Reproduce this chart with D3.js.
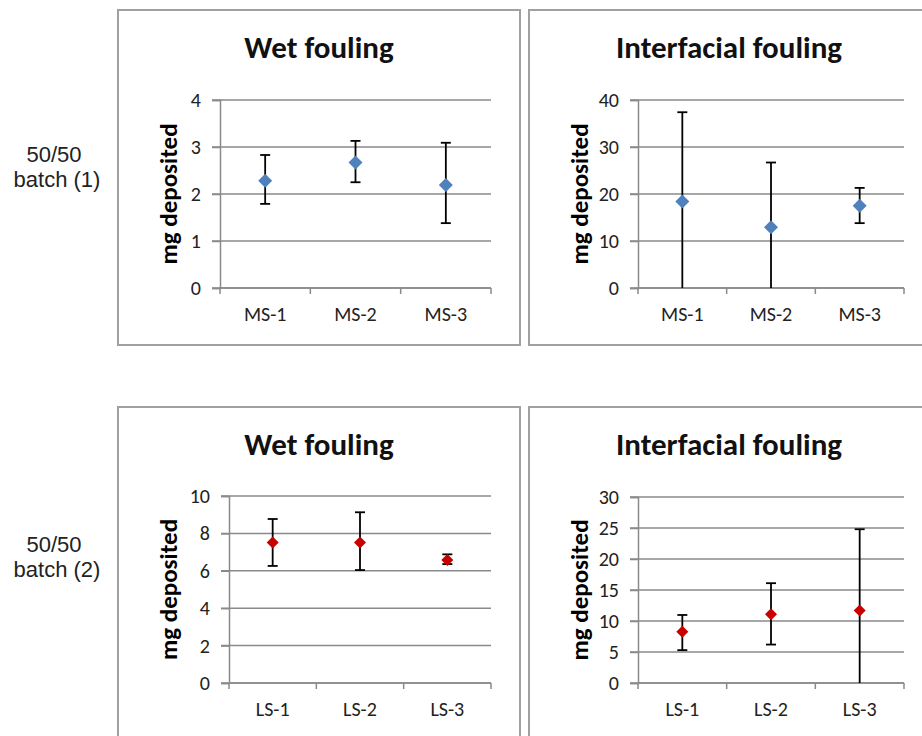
<!DOCTYPE html>
<html>
<head>
<meta charset="utf-8">
<script src="https://cdn.jsdelivr.net/npm/d3@7"></script>
<style>
  body { margin: 0; background: #fff; }
  svg { display: block; }
</style>
</head>
<body>
<svg id="chart" width="922" height="736"></svg>
<script>
// fouling results, two 50/50 batches

const batch1Cats = ['MS-1', 'MS-2', 'MS-3'];
const batch2Cats = ['LS-1', 'LS-2', 'LS-3'];

// batch (1), wet fouling
const wet1Mean = [2.28, 2.67, 2.19];
const wet1Low  = [1.79, 2.25, 1.38];
const wet1High = [2.83, 3.13, 3.09];
// batch (1), interfacial fouling (lower bars run below zero)
const int1Mean = [18.4, 12.9, 17.5];
const int1Low  = [0, 0, 13.8];
const int1High = [37.4, 26.7, 21.3];

// batch (2), wet fouling
const wet2Mean = [7.52, 7.52, 6.58];
const wet2Low  = [6.26, 6.04, 6.36];
const wet2High = [8.77, 9.13, 6.88];
// batch (2), interfacial fouling
const int2Mean = [8.27, 11.1, 11.7];
const int2Low  = [5.3, 6.2, 0];
const int2High = [10.97, 16.1, 24.8];

const wet1Ticks = [0, 1, 2, 3, 4];
const int1Ticks = [0, 10, 20, 30, 40];
const wet2Ticks = [0, 2, 4, 6, 8, 10];
const int2Ticks = [0, 5, 10, 15, 20, 25, 30];

const rowLabels = [['50/50', 'batch (1)'], ['50/50', 'batch (2)']];

const blue = '#4f81bd', red = '#c80000';
const grid = '#8a8a8a';
const fontC = 'Carlito, Lato, "Open Sans", sans-serif';

const svg = d3.select('#chart');

function zip(cats, mean, lo, hi) {
    return cats.map((c, i) => ({cat: c, v: mean[i], lo: lo[i], hi: hi[i]}));
}

let panels = [
    {title: 'Wet fouling', data: zip(batch1Cats, wet1Mean, wet1Low, wet1High), ticks: wet1Ticks,
     color: blue, mk: 14, frame: [118, 10, 402, 335], plot: {l: 220, r: 491, t: 100, b: 288}},
    {title: 'Interfacial fouling', data: zip(batch1Cats, int1Mean, int1Low, int1High), ticks: int1Ticks,
     color: blue, mk: 14, frame: [529, 10, 400, 335], plot: {l: 638, r: 904, t: 100, b: 288}},
    {title: 'Wet fouling', data: zip(batch2Cats, wet2Mean, wet2Low, wet2High), ticks: wet2Ticks,
     color: red, mk: 12, frame: [118, 407, 402, 335], plot: {l: 229, r: 491, t: 496, b: 683}},
    {title: 'Interfacial fouling', data: zip(batch2Cats, int2Mean, int2Low, int2High), ticks: int2Ticks,
     color: red, mk: 12, frame: [529, 407, 400, 335], plot: {l: 638, r: 904, t: 497, b: 683}}
];

panels.forEach(function (p) {
    let g = svg.append('g');
    let [fx, fy, fw, fh] = p.frame;

    g.append('rect')
        .attr('x', fx).attr('y', fy).attr('width', fw).attr('height', fh)
        .attr('fill', '#fff').attr('stroke', '#a0a0a0').attr('stroke-width', 2);

    g.append('text')
        .attr('x', fx + fw / 2).attr('y', fy + 48)
        .attr('text-anchor', 'middle')
        .style('font-family', fontC).style('font-weight', 'bold').style('font-size', '31px')
        .attr('fill', '#111')
        .text(p.title);

    let y = d3.scaleLinear()
        .domain(d3.extent(p.ticks))
        .range([p.plot.b, p.plot.t]);
    let x = d3.scaleBand()
        .domain(p.data.map(d => d.cat))
        .range([p.plot.l, p.plot.r]);

    // gridlines
    g.selectAll('.grid').data(p.ticks).enter().append('line')
        .attr('class', 'grid')
        .attr('x1', p.plot.l - 8).attr('x2', p.plot.r)
        .attr('y1', d => y(d)).attr('y2', d => y(d))
        .attr('stroke', grid).attr('stroke-width', 1.5);

    // y axis
    let ya = g.append('g')
        .attr('transform', 'translate(' + p.plot.l + ',0)')
        .call(d3.axisLeft(y).tickValues(p.ticks).tickSize(8).tickPadding(11).tickFormat(d3.format('d')));
    ya.select('.domain').attr('stroke', grid).attr('stroke-width', 1.5);
    ya.selectAll('.tick line').attr('stroke', grid).attr('stroke-width', 1.5);
    ya.selectAll('text').style('font-family', fontC).style('font-size', '20px').attr('fill', '#222');

    // x axis: ticks between categories, labels at centres
    let xa = g.append('g')
        .attr('transform', 'translate(0,' + p.plot.b + ')')
        .call(d3.axisBottom(x).tickSize(0).tickPadding(19));
    xa.select('.domain').remove();
    xa.selectAll('text').style('font-family', fontC).style('font-size', '20px').attr('fill', '#222');
    g.append('line')
        .attr('x1', p.plot.l).attr('x2', p.plot.r)
        .attr('y1', p.plot.b).attr('y2', p.plot.b)
        .attr('stroke', grid).attr('stroke-width', 1.5);
    let edges = x.domain().map(c => x(c)).concat([p.plot.r]);
    g.selectAll('.xt').data(edges).enter().append('line')
        .attr('class', 'xt')
        .attr('x1', d => d).attr('x2', d => d)
        .attr('y1', p.plot.b).attr('y2', p.plot.b + 6)
        .attr('stroke', grid).attr('stroke-width', 1.5);

    // axis title
    let cy = (p.plot.t + p.plot.b) / 2;
    g.append('text')
        .attr('transform', 'translate(' + (fx + 59) + ',' + cy + ') rotate(-90)')
        .attr('text-anchor', 'middle')
        .style('font-family', fontC).style('font-weight', 'bold').style('font-size', '25px')
        .attr('fill', '#000')
        .text('mg deposited');

    // error bars
    let cx = d => x(d.cat) + x.bandwidth() / 2;
    let yMin = y.domain()[0];
    let eb = g.selectAll('.eb').data(p.data).enter().append('g').attr('class', 'eb');
    eb.append('line')
        .attr('x1', cx).attr('x2', cx)
        .attr('y1', d => y(Math.max(d.lo, yMin))).attr('y2', d => y(d.hi))
        .attr('stroke', '#000').attr('stroke-width', 1.8);
    eb.append('line')
        .attr('x1', d => cx(d) - 5).attr('x2', d => cx(d) + 5)
        .attr('y1', d => y(d.hi)).attr('y2', d => y(d.hi))
        .attr('stroke', '#000').attr('stroke-width', 1.8);
    eb.filter(d => d.lo > yMin).append('line')
        .attr('x1', d => cx(d) - 5).attr('x2', d => cx(d) + 5)
        .attr('y1', d => y(d.lo)).attr('y2', d => y(d.lo))
        .attr('stroke', '#000').attr('stroke-width', 1.8);

    // diamond markers
    let side = p.mk / Math.SQRT2;
    g.selectAll('.pt').data(p.data).enter().append('path')
        .attr('class', 'pt')
        .attr('d', d3.symbol(d3.symbolSquare, side * side))
        .attr('transform', d => 'translate(' + cx(d) + ',' + y(d.v) + ') rotate(45)')
        .attr('fill', p.color);
});

// row labels on the left
let rowY = [[162, 187], [552, 577]];
rowLabels.forEach(function (lines, i) {
    lines.forEach(function (t, j) {
        svg.append('text')
            .attr('x', j === 0 ? 54 : 57).attr('y', rowY[i][j])
            .attr('text-anchor', 'middle')
            .style('font-family', '"Liberation Sans", Arial, sans-serif').style('font-size', '22px')
            .attr('fill', '#222')
            .text(t);
    });
});
</script>
</body>
</html>
